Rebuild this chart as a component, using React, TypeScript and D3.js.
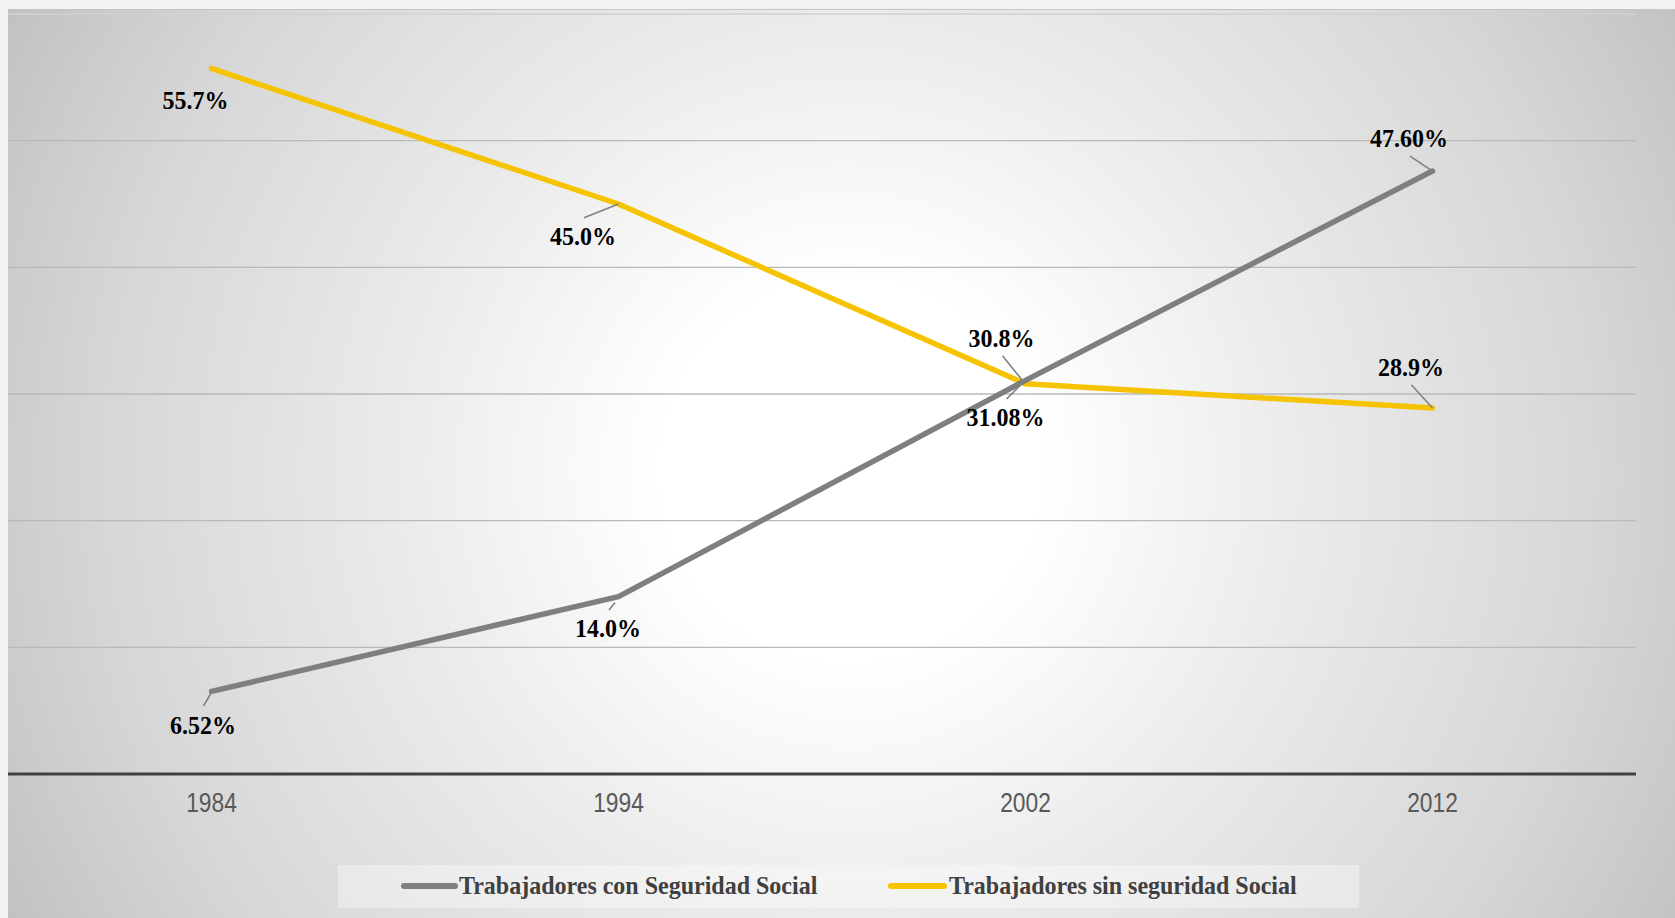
import React from "react";
import * as d3 from "d3";

const years = ["1984", "1994", "2002", "2012"];
const conSeguridad = [6.52, 14.0, 31.08, 47.6];
const sinSeguridad = [55.7, 45.0, 30.8, 28.9];
const conLabels = ["6.52%", "14.0%", "31.08%", "47.60%"];
const sinLabels = ["55.7%", "45.0%", "30.8%", "28.9%"];
const seriesNames = ["Trabajadores con Seguridad Social", "Trabajadores sin seguridad Social"];
const yTicks = [10, 20, 30, 40, 50, 60];

// label placement (styling): text center offset + leader line start/end offsets, relative to point
const conLabelPos = [
  { dx: -8.5, dy: 42.6, leader: [-8, 14.6, 0, 1] },
  { dx: -10.5, dy: 40.3, leader: [-9.5, 13.3, -3.5, 6] },
  { dx: -20, dy: 45.7, leader: [-19, 18.7, -5, 4.7] },
  { dx: -23.5, dy: -24.3, leader: [-22.5, -15, 0, 0] },
];
const sinLabelPos = [
  { dx: -16, dy: 40.5, leader: null },
  { dx: -35.5, dy: 41, leader: [-34.5, 13.7, 0, 0] },
  { dx: -24, dy: -37.2, leader: [-23, -28, -2, -2] },
  { dx: -21.5, dy: -31.5, leader: [-21, -23, 0, 0] },
];

const W = 1675;
const H = 918;
const GRAY = "#7f7f7f";
const GOLD = "#f5c300";

export default function App() {
  const x = d3.scalePoint<string>().domain(years).range([8, 1636]).padding(0.5);
  const y = d3.scaleLinear().domain([0, 60]).range([774, 14]);
  const line = d3
    .line<number>()
    .x((_, i) => x(years[i]) as number)
    .y((d) => y(d));

  const labelFont = { fontFamily: "'Liberation Serif', 'Times New Roman', serif", fontWeight: 700, fontSize: 24 };

  const renderLabels = (vals: number[], labels: string[], pos: any[], key: string) =>
    vals.map((v, i) => {
      const px = x(years[i]) as number;
      const py = y(v);
      const p = pos[i];
      return (
        <g key={key + i}>
          {p.leader && (
            <line
              x1={px + p.leader[0]}
              y1={py + p.leader[1]}
              x2={px + p.leader[2]}
              y2={py + p.leader[3]}
              stroke="#808080"
              strokeWidth={1.6}
            />
          )}
          <text
            transform={`translate(${px + p.dx},${py + p.dy}) scale(1,1.04)`}
            textAnchor="middle"
            fill="#000"
            style={labelFont}
          >
            {labels[i]}
          </text>
        </g>
      );
    });

  return (
    <svg
      width={W}
      height={H}
      style={{ position: "absolute", left: 0, top: 0, display: "block" }}
    >
      <defs>
        <radialGradient id="bg" gradientUnits="userSpaceOnUse" cx={850} cy={470} r={950}>
          <stop offset="0" stopColor="#ffffff" />
          <stop offset="0.2" stopColor="#ffffff" />
          <stop offset="0.47" stopColor="#ebebeb" />
          <stop offset="0.78" stopColor="#d7d7d7" />
          <stop offset="0.91" stopColor="#cbcbcb" />
          <stop offset="1" stopColor="#c2c2c2" />
        </radialGradient>
      </defs>
      <rect x={0} y={0} width={W} height={H} fill="#f3f3f3" />
      <rect x={8} y={9} width={W - 8} height={H - 9} fill="url(#bg)" />
      <line x1={8} x2={W} y1={9.5} y2={9.5} stroke="#c4c4c4" strokeWidth={1} />

      {/* gridlines */}
      {yTicks.map((t) => (
        <line
          key={t}
          x1={8}
          x2={1636}
          y1={y(t)}
          y2={y(t)}
          stroke={t === 60 ? "#d0d0d0" : "#b9b9b9"}
          strokeWidth={1.3}
        />
      ))}

      {/* axis */}
      <line x1={8} x2={1636} y1={y(0)} y2={y(0)} stroke="#404040" strokeWidth={3} />
      {years.map((yr) => (
        <text
          key={yr}
          transform={`translate(${x(yr) as number},812) scale(0.95,1.12)`}
          textAnchor="middle"
          fill="#595959"
          style={{ fontFamily: "'Liberation Sans', Arial, sans-serif", fontSize: 24 }}
        >
          {yr}
        </text>
      ))}

      {/* series lines */}
      <path
        d={line(sinSeguridad) as string}
        fill="none"
        stroke={GOLD}
        strokeWidth={5.5}
        strokeLinecap="round"
        strokeLinejoin="round"
      />
      <path
        d={line(conSeguridad) as string}
        fill="none"
        stroke={GRAY}
        strokeWidth={5.5}
        strokeLinecap="round"
        strokeLinejoin="round"
      />

      {renderLabels(sinSeguridad, sinLabels, sinLabelPos, "s")}
      {renderLabels(conSeguridad, conLabels, conLabelPos, "c")}

      {/* legend */}
      <rect x={338} y={865} width={1021} height={43} fill="#ffffff" fillOpacity={0.35} />
      <line x1={404} x2={455} y1={886} y2={886} stroke={GRAY} strokeWidth={6} strokeLinecap="round" />
      <text transform="translate(459,894) scale(1,1.06)" fill="#404040" style={labelFont}>
        {seriesNames[0]}
      </text>
      <line x1={891} x2={944} y1={886} y2={886} stroke={GOLD} strokeWidth={6} strokeLinecap="round" />
      <text transform="translate(949,894) scale(1,1.06)" fill="#404040" style={labelFont}>
        {seriesNames[1]}
      </text>
    </svg>
  );
}
